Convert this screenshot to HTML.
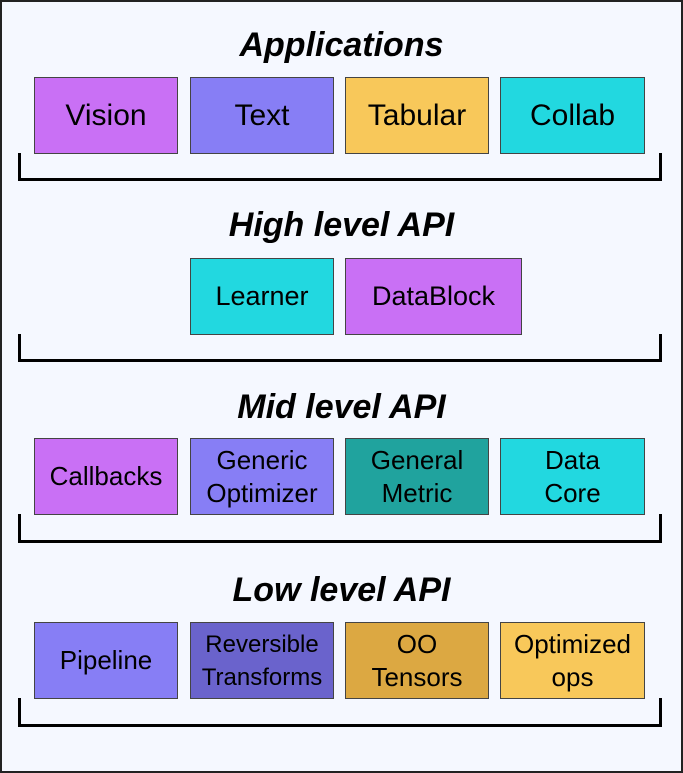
<!DOCTYPE html>
<html><head><style>
body{margin:0;background:#fff;}
.f{position:relative;width:679px;height:769px;border:2px solid #222;background:#f5f8ff;font-family:"Liberation Sans",sans-serif;}
.t{position:absolute;left:0;width:679px;text-align:center;font-weight:bold;font-style:italic;font-size:34px;color:#000;}
.b{position:absolute;height:74px;border:1px solid #444;display:flex;align-items:center;justify-content:center;text-align:center;font-size:26px;line-height:33px;color:#000;box-sizing:border-box;white-space:nowrap;}
.k{position:absolute;left:16px;width:644px;border-left:3px solid #000;border-right:3px solid #000;border-bottom:3px solid #000;box-sizing:border-box;}
</style></head><body><div class="f">
<div class="t" style="top:24px">Applications</div>
<div class="b" style="left:32px;top:75px;width:144px;height:77px;background:#c970f5;font-size:30px">Vision</div>
<div class="b" style="left:188px;top:75px;width:144px;height:77px;background:#877ef5;font-size:30px">Text</div>
<div class="b" style="left:343px;top:75px;width:144px;height:77px;background:#f8c85a;font-size:30px">Tabular</div>
<div class="b" style="left:498px;top:75px;width:145px;height:77px;background:#22d8e0;font-size:30px">Collab</div>
<div class="k" style="top:151px;height:28px"></div>
<div class="t" style="top:204px">High level API</div>
<div class="b" style="left:188px;top:256px;width:144px;height:77px;background:#22d8e0;font-size:27px">Learner</div>
<div class="b" style="left:343px;top:256px;width:177px;height:77px;background:#c970f5;font-size:27px">DataBlock</div>
<div class="k" style="top:332px;height:28px"></div>
<div class="t" style="top:386px">Mid level API</div>
<div class="b" style="left:32px;top:436px;width:144px;height:77px;background:#c970f5">Callbacks</div>
<div class="b" style="left:188px;top:436px;width:144px;height:77px;background:#877ef5">Generic<br>Optimizer</div>
<div class="b" style="left:343px;top:436px;width:144px;height:77px;background:#20a39e">General<br>Metric</div>
<div class="b" style="left:498px;top:436px;width:145px;height:77px;background:#22d8e0">Data<br>Core</div>
<div class="k" style="top:512px;height:29px"></div>
<div class="t" style="top:569px">Low level API</div>
<div class="b" style="left:32px;top:620px;width:144px;height:77px;background:#877ef5">Pipeline</div>
<div class="b" style="left:188px;top:620px;width:144px;height:77px;background:#6a63cc;font-size:24px">Reversible<br>Transforms</div>
<div class="b" style="left:343px;top:620px;width:144px;height:77px;background:#dca842">OO<br>Tensors</div>
<div class="b" style="left:498px;top:620px;width:145px;height:77px;background:#f8c85a">Optimized<br>ops</div>
<div class="k" style="top:696px;height:29px"></div>
</div></body></html>
